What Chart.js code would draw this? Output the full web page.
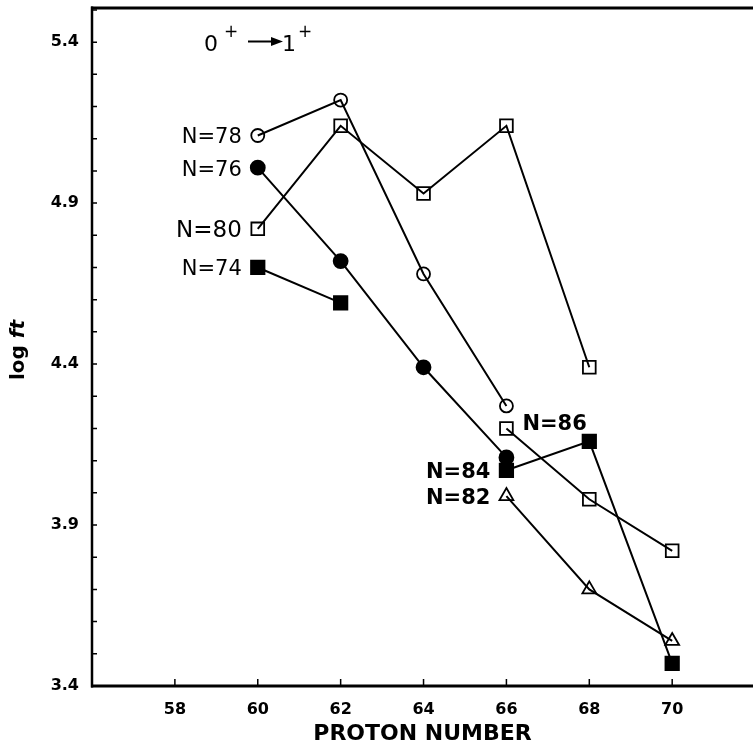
<!DOCTYPE html>
<html><head><meta charset="utf-8">
<script src="https://cdn.jsdelivr.net/npm/chart.js@4/dist/chart.umd.min.js"></script>
<style>html,body{margin:0;padding:0;background:#fff;overflow:hidden}#wrap{width:753px;height:752px}</style>
</head><body><div id="wrap"><canvas id="c" width="753" height="752"></canvas></div>
<script>
// ---- data ----
const protonNumbers = [60, 62, 64, 66, 68, 70];
const logftN74 = [4.70, 4.59, null, null, null, null];
const logftN76 = [5.01, 4.72, 4.39, 4.11, null, null];
const logftN78 = [5.11, 5.22, 4.68, 4.27, null, null];
const logftN80 = [4.82, 5.14, 4.93, 5.14, 4.39, null];
const logftN82 = [null, null, null, 3.99, 3.70, 3.54];
const logftN84 = [null, null, null, 4.07, 4.16, 3.47];
const logftN86 = [null, null, null, 4.20, 3.98, 3.82];
const xTickValues = [58, 60, 62, 64, 66, 68, 70];
const yTickValues = [3.4, 3.9, 4.4, 4.9, 5.4];
const seriesNames = ['N=74', 'N=76', 'N=78', 'N=80', 'N=82', 'N=84', 'N=86'];
const xTitle = 'PROTON NUMBER';
const transitionText = ['0', '+', '1', '+'];

// ---- styling ----
const FONT = 'DejaVu Sans';
const seriesStyle = {
  'N=74': {shape: 'rect', filled: true, r: 9.5, label: {side: 'left', bold: false, size: 21}},
  'N=76': {shape: 'circle', filled: true, r: 7, label: {side: 'left', bold: false, size: 21}},
  'N=78': {shape: 'circle', filled: false, r: 6.5, label: {side: 'left', bold: false, size: 21}},
  'N=80': {shape: 'rect', filled: false, r: 9, label: {side: 'left', bold: false, size: 23}},
  'N=82': {shape: 'triangle', filled: false, r: 8, label: {side: 'left', bold: true, size: 21}},
  'N=84': {shape: 'rect', filled: true, r: 9.5, label: {side: 'left', bold: true, size: 21}},
  'N=86': {shape: 'rect', filled: false, r: 9, label: {side: 'right', bold: true, size: 21}}
};
const allSeries = [logftN74, logftN76, logftN78, logftN80, logftN82, logftN84, logftN86];

const datasets = allSeries.map((vals, i) => {
  const name = seriesNames[i];
  const st = seriesStyle[name];
  const pts = [];
  vals.forEach((v, j) => { if (v !== null) pts.push({x: protonNumbers[j], y: v}); });
  return {
    label: name,
    data: pts,
    showLine: true,
    borderColor: '#000',
    borderWidth: 2,
    pointStyle: st.shape,
    pointRadius: st.r,
    pointBorderWidth: 1.8,
    pointBorderColor: '#000',
    pointBackgroundColor: st.filled ? '#000' : 'rgba(0,0,0,0)',
    tension: 0
  };
});

const axesPlugin = {
  id: 'axesPlugin',
  beforeDatasetsDraw(chart) {
    const {ctx, chartArea: {left, top, bottom}, scales: {x, y}} = chart;
    ctx.save();
    ctx.strokeStyle = '#000';
    ctx.lineWidth = 3;
    ctx.beginPath(); ctx.moveTo(left - 1, top); ctx.lineTo(chart.width, top); ctx.stroke();
    ctx.beginPath(); ctx.moveTo(left - 1, bottom); ctx.lineTo(chart.width, bottom); ctx.stroke();
    ctx.lineWidth = 2.5;
    ctx.beginPath(); ctx.moveTo(left, top - 1.5); ctx.lineTo(left, bottom + 1.5); ctx.stroke();
    ctx.lineWidth = 1.5;
    ctx.beginPath();
    for (let k = 35; k <= 55; k++) {
      const py = y.getPixelForValue(k / 10);
      ctx.moveTo(left, py); ctx.lineTo(left + 5, py);
    }
    for (const v of xTickValues) {
      const px = x.getPixelForValue(v);
      ctx.moveTo(px, bottom); ctx.lineTo(px, bottom - 7);
    }
    ctx.stroke();
    // y-axis title "log ft"
    ctx.translate(19, 350);
    ctx.rotate(-Math.PI / 2);
    ctx.fillStyle = '#000';
    ctx.textBaseline = 'middle';
    const f1 = 'bold 20px "' + FONT + '"';
    const f2 = 'italic bold 20px "' + FONT + '"';
    ctx.font = f1; const w1 = ctx.measureText('log ').width;
    ctx.font = f2; const w2 = ctx.measureText('ft').width;
    let sx = -(w1 + w2) / 2;
    ctx.textAlign = 'left';
    ctx.font = f1; ctx.fillText('log ', sx, 0);
    ctx.font = f2; ctx.fillText('ft', sx + w1, 0);
    ctx.restore();
  },
  afterDatasetsDraw(chart) {
    const {ctx, scales: {x, y}} = chart;
    ctx.save();
    ctx.fillStyle = '#000';
    ctx.textBaseline = 'alphabetic';
    chart.data.datasets.forEach(ds => {
      const st = seriesStyle[ds.label].label;
      const p = ds.data[0];
      const px = x.getPixelForValue(p.x), py = y.getPixelForValue(p.y);
      ctx.font = (st.bold ? 'bold ' : '') + st.size + 'px "' + FONT + '"';
      if (st.side === 'left') {
        ctx.textAlign = 'right';
        ctx.fillText(ds.label, px - 16, py + 8);
      } else {
        ctx.textAlign = 'left';
        ctx.fillText(ds.label, px + 16, py + 2);
      }
    });
    // transition annotation 0+ -> 1+
    ctx.textAlign = 'left';
    ctx.font = '22px "' + FONT + '"';
    ctx.fillText(transitionText[0], 204, 51);
    ctx.font = '17px "' + FONT + '"';
    ctx.fillText(transitionText[1], 224, 37);
    ctx.strokeStyle = '#000';
    ctx.lineWidth = 2;
    ctx.beginPath(); ctx.moveTo(248, 41.5); ctx.lineTo(274, 41.5); ctx.stroke();
    ctx.beginPath(); ctx.moveTo(283, 41.5); ctx.lineTo(271, 37); ctx.lineTo(271, 46); ctx.closePath(); ctx.fill();
    ctx.font = '22px "' + FONT + '"';
    ctx.fillText(transitionText[2], 282, 51);
    ctx.font = '17px "' + FONT + '"';
    ctx.fillText(transitionText[3], 298, 37);
    ctx.restore();
  }
};

new Chart(document.getElementById('c'), {
  type: 'scatter',
  data: {datasets},
  options: {
    responsive: false,
    animation: false,
    layout: {autoPadding: false, padding: {top: 8, right: 0, left: 0, bottom: 0}},
    plugins: {legend: {display: false}, tooltip: {enabled: false}},
    scales: {
      x: {
        type: 'linear', min: 56, max: 71.95,
        afterFit: s => { s.height = 66; s.paddingLeft = 0; s.paddingRight = 0; },
        afterBuildTicks: s => { s.ticks = xTickValues.map(v => ({value: v})); },
        grid: {display: false, drawTicks: false},
        border: {display: false},
        ticks: {color: '#000', padding: 14, font: {family: FONT, weight: 'bold', size: 16}, callback: v => String(v)},
        title: {display: true, text: xTitle, color: '#000', padding: {top: 0, bottom: 5}, font: {family: FONT, weight: 'bold', size: 22}}
      },
      y: {
        type: 'linear', min: 3.4, max: 5.506,
        afterFit: s => { s.width = 92; s.paddingTop = 0; s.paddingBottom = 0; },
        afterBuildTicks: s => { s.ticks = yTickValues.map(v => ({value: v})); },
        grid: {display: false, drawTicks: false},
        border: {display: false},
        ticks: {color: '#000', padding: 13, font: {family: FONT, weight: 'bold', size: 16}, callback: v => Number(v).toFixed(1)}
      }
    }
  },
  plugins: [axesPlugin]
});
</script>
</body></html>
